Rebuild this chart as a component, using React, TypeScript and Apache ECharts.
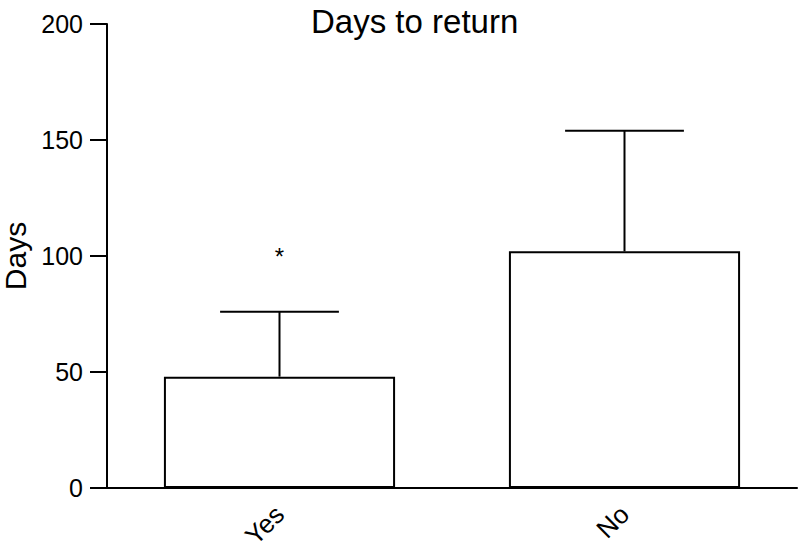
import React, { useEffect, useRef } from "react";
import * as echarts from "echarts";

const categories = ["Yes", "No"];
const meanDays = [48, 102];
const upperError = [76, 154];
const markerValues = [100, null];
const markerText = "*";
const yTicks = [0, 50, 100, 150, 200];

const FONT = "'Liberation Sans', Arial, Helvetica, sans-serif";

export default function App() {
  const ref = useRef<HTMLDivElement>(null);
  useEffect(() => {
    document.body.style.margin = "0";
    const chart = echarts.init(ref.current!, null, { renderer: "svg" });
    const errData = categories.map((c, i) => [i, meanDays[i], upperError[i]]);
    const markData = categories
      .map((c, i) => [i, markerValues[i]])
      .filter((d) => d[1] !== null);
    chart.setOption({
      animation: false,
      backgroundColor: "#ffffff",
      title: {
        text: "Days to return",
        left: 306,
        top: 0,
        textStyle: { fontFamily: FONT, fontSize: 33, fontWeight: "normal", color: "#000" },
      },
      grid: { left: 107, right: 3, top: 24, bottom: 70, containLabel: false, outerBoundsMode: "none" },
      xAxis: {
        type: "category",
        data: categories,
        axisLine: { lineStyle: { color: "#000", width: 2 } },
        axisTick: { alignWithLabel: true, length: 17, lineStyle: { color: "#000", width: 2 } },
        axisLabel: {
          rotate: 45,
          margin: 22,
          color: "#000",
          fontFamily: FONT,
          fontSize: 26,
        },
      },
      yAxis: {
        type: "value",
        min: yTicks[0],
        max: yTicks[yTicks.length - 1],
        interval: 50,
        name: "Days",
        nameLocation: "middle",
        nameGap: 74,
        nameTextStyle: { fontFamily: FONT, fontSize: 30, lineHeight: 30, color: "#000" },
        axisLine: { show: true, lineStyle: { color: "#000", width: 2 } },
        axisTick: { show: true, length: 17, lineStyle: { color: "#000", width: 2 } },
        axisLabel: { margin: 24, color: "#000", fontFamily: FONT, fontSize: 25 },
        splitLine: { show: false },
      },
      series: [
        {
          type: "bar",
          data: meanDays,
          barWidth: "67%",
          itemStyle: { color: "#fff", borderColor: "#000", borderWidth: 2 },
          z: 2,
        },
        {
          type: "custom",
          data: errData,
          z: 3,
          renderItem: (params: any, api: any) => {
            const x = api.value(0);
            const top = api.coord([x, api.value(2)]);
            const base = api.coord([x, api.value(1)]);
            const band = api.size([1, 0])[0];
            const half = band * 0.67 * 0.257;
            const style = { stroke: "#000", lineWidth: 2 };
            return {
              type: "group",
              children: [
                { type: "line", shape: { x1: top[0], y1: base[1], x2: top[0], y2: top[1] }, style },
                { type: "line", shape: { x1: top[0] - half, y1: top[1], x2: top[0] + half, y2: top[1] }, style },
              ],
            };
          },
        },
        {
          type: "custom",
          data: markData,
          z: 4,
          renderItem: (params: any, api: any) => {
            const p = api.coord([api.value(0), api.value(1)]);
            return {
              type: "text",
              x: p[0],
              y: p[1],
              style: {
                text: markerText,
                fontFamily: FONT,
                fontSize: 24,
                fill: "#000",
                align: "center",
                verticalAlign: "middle",
              },
            };
          },
        },
      ],
    });
    return () => chart.dispose();
  }, []);
  return <div ref={ref} style={{ width: 800, height: 558 }} />;
}
